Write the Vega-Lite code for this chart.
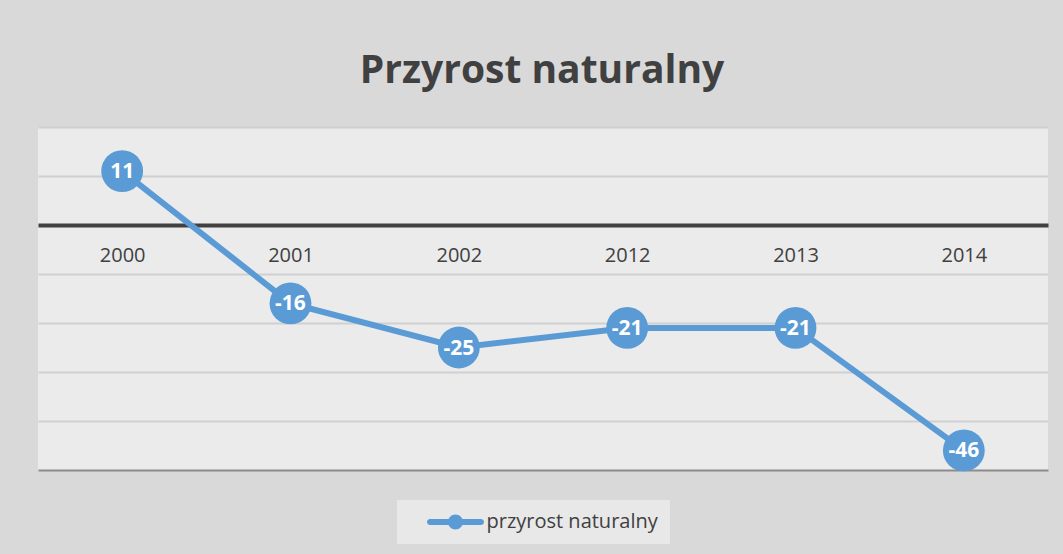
{
  "$schema": "https://vega.github.io/schema/vega-lite/v6.json",
  "width": 1010,
  "height": 343,
  "autosize": {"type": "none"},
  "padding": {"left": 38, "top": 127, "right": 15, "bottom": 84},
  "background": "#d9d9d9",
  "title": {
    "text": "Przyrost naturalny",
    "font": "Open Sans",
    "fontSize": 39,
    "fontWeight": "bold",
    "color": "#404040",
    "anchor": "middle",
    "frame": "group",
    "offset": 5,
    "baseline": "alphabetic",
    "dx": -1
  },
  "data": {
    "values": [
      {"year": "2000", "value": 11, "series": "przyrost naturalny"},
      {"year": "2001", "value": -16, "series": "przyrost naturalny"},
      {"year": "2002", "value": -25, "series": "przyrost naturalny"},
      {"year": "2012", "value": -21, "series": "przyrost naturalny"},
      {"year": "2013", "value": -21, "series": "przyrost naturalny"},
      {"year": "2014", "value": -46, "series": "przyrost naturalny"}
    ]
  },
  "encoding": {
    "x": {
      "field": "year",
      "type": "ordinal",
      "scale": {"type": "point", "padding": 0.5},
      "axis": {
        "title": null,
        "offset": -245,
        "domainColor": "#404040",
        "domainWidth": 4,
        "ticks": false,
        "labelAngle": 0,
        "labelPadding": 20,
        "labelFont": "Open Sans",
        "labelFontSize": 20,
        "labelColor": "#404040",
        "grid": false
      }
    },
    "y": {
      "field": "value",
      "type": "quantitative",
      "scale": {"domain": [-50, 20], "nice": false, "zero": false},
      "axis": {
        "values": [-50, -40, -30, -20, -10, 0, 10, 20],
        "labels": false,
        "ticks": false,
        "domain": false,
        "title": null,
        "grid": true,
        "gridColor": {"condition": {"test": "datum.value === -50", "value": "#8c8c8c"}, "value": "#d0d0d0"},
        "gridWidth": 2
      }
    }
  },
  "layer": [
    {"mark": {"type": "line", "color": "#5B9BD5", "strokeWidth": 6}},
    {
      "mark": {"type": "point", "filled": true, "opacity": 1, "size": 1750},
      "encoding": {
        "color": {
          "field": "series",
          "type": "nominal",
          "scale": {"range": ["#5B9BD5"]},
          "legend": {
            "title": null,
            "orient": "none",
            "legendX": 359,
            "legendY": 373,
            "symbolType": "M -2.55,-0.3 L 2.55,-0.3 A 0.3,0.3 0 0,1 2.55,0.3 L -2.55,0.3 A 0.3,0.3 0 0,1 -2.55,-0.3 Z M -0.75,0 A 0.75,0.75 0 1,1 0.75,0 A 0.75,0.75 0 1,1 -0.75,0 Z",
            "symbolSize": 400,
            "symbolOffset": 36.5,
            "symbolStrokeWidth": 0,
            "labelOffset": 21,
            "labelLimit": 400,
            "labelFont": "Open Sans",
            "labelFontSize": 20,
            "labelColor": "#404040",
            "labelExpr": "datum.label + '\u2003\u2003'",
            "fillColor": "#e8e8e8",
            "padding": 12
          }
        }
      }
    },
    {
      "mark": {"type": "text", "color": "white", "font": "Open Sans", "fontWeight": "bold", "fontSize": 21, "baseline": "middle", "dy": 1},
      "encoding": {"text": {"field": "value", "type": "nominal"}}
    }
  ],
  "config": {"view": {"fill": "#ebebeb", "stroke": null}}
}
